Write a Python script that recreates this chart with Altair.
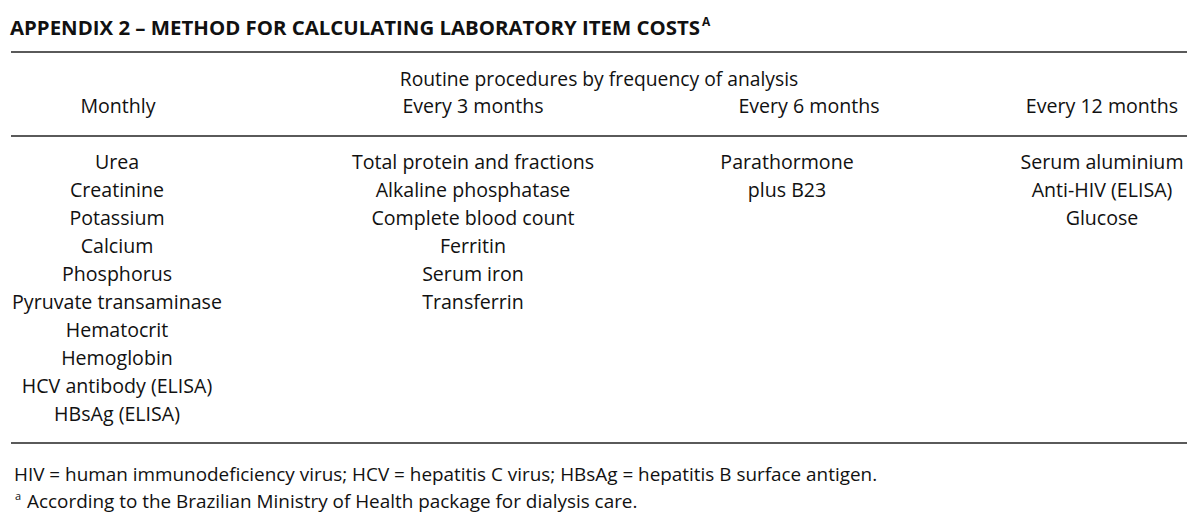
import altair as alt
import pandas as pd

# ---------------- data ----------------
title_text = "APPENDIX 2 – METHOD FOR CALCULATING LABORATORY ITEM COSTS"
title_sup = "A"
spanner = "Routine procedures by frequency of analysis"
columns = ["Monthly", "Every 3 months", "Every 6 months", "Every 12 months"]
monthly = ["Urea", "Creatinine", "Potassium", "Calcium", "Phosphorus",
           "Pyruvate transaminase", "Hematocrit", "Hemoglobin",
           "HCV antibody (ELISA)", "HBsAg (ELISA)"]
every3 = ["Total protein and fractions", "Alkaline phosphatase",
          "Complete blood count", "Ferritin", "Serum iron", "Transferrin"]
every6 = ["Parathormone", "plus B23"]
every12 = ["Serum aluminium", "Anti-HIV (ELISA)", "Glucose"]
footnote_abbrev = ("HIV = human immunodeficiency virus; HCV = hepatitis C virus; "
                   "HBsAg = hepatitis B surface antigen.")
footnote_mark = "a"
footnote_a = "According to the Brazilian Ministry of Health package for dialysis care."

# ---------------- tables ----------------
rows = []
for ci, (col, items) in enumerate(zip(columns, [monthly, every3, every6, every12])):
    for i, t in enumerate(items):
        rows.append({"col": ci, "column": col, "row": i, "text": t})
items_df = pd.DataFrame(rows)
header_df = pd.DataFrame({"col": list(range(len(columns))), "text": columns})

FONT = "Open Sans"
INK = "#111111"
OFF = 8  # page margin; coordinates below are plot-area pixels
col_index = list(range(len(columns)))

def single(text):
    return alt.Chart(pd.DataFrame({"t": [text]}))

title = single(title_text).mark_text(
    align="left", baseline="middle", font=FONT, fontSize=20.4, fontWeight="bold", color=INK
).encode(text="t:N", x=alt.value(10 - OFF), y=alt.value(29 - OFF))

sup = single(title_sup).mark_text(
    align="left", baseline="middle", font=FONT, fontSize=12, fontWeight="bold", color=INK
).encode(text="t:N", x=alt.value(702 - OFF), y=alt.value(22 - OFF))

rule_df = pd.DataFrame({"line": ["top", "header", "bottom"], "ypos": [52, 136, 443]})
rules = alt.Chart(rule_df).mark_rule(color="#5a5a5a", strokeWidth=2).encode(
    x=alt.value(11 - OFF), x2=alt.value(1187 - OFF),
    y=alt.Y("ypos:Q", scale=alt.Scale(domain=[OFF, 525 - OFF], range=[0, 509]), axis=None),
)

span = single(spanner).mark_text(
    align="center", baseline="middle", font=FONT, fontSize=19.3, color=INK
).encode(text="t:N", x=alt.value(599 - OFF), y=alt.value(80 - OFF))

headers = alt.Chart(header_df).mark_text(
    align="center", baseline="middle", font=FONT, fontSize=19.6, color=INK
).encode(
    x=alt.X("col:Q", scale=alt.Scale(domain=col_index,
                                     range=[118 - OFF, 473 - OFF, 809 - OFF, 1102 - OFF]),
            axis=None),
    y=alt.value(107 - OFF),
    text="text:N",
)

cells = alt.Chart(items_df).mark_text(
    align="center", baseline="middle", font=FONT, fontSize=19.6, color=INK
).encode(
    x=alt.X("col:Q", scale=alt.Scale(domain=col_index,
                                     range=[117 - OFF, 473 - OFF, 787 - OFF, 1102 - OFF]),
            axis=None),
    y=alt.Y("row:Q", scale=alt.Scale(domain=[0, 9], range=[163 - OFF, 415 - OFF]), axis=None),
    text="text:N",
)

foot1 = single(footnote_abbrev).mark_text(
    align="left", baseline="middle", font=FONT, fontSize=18.9, color=INK
).encode(text="t:N", x=alt.value(14 - OFF), y=alt.value(475 - OFF))

foot_mark = single(footnote_mark).mark_text(
    align="left", baseline="middle", font=FONT, fontSize=11, color=INK
).encode(text="t:N", x=alt.value(15 - OFF), y=alt.value(497 - OFF))

foot2 = single(footnote_a).mark_text(
    align="left", baseline="middle", font=FONT, fontSize=18.9, color=INK
).encode(text="t:N", x=alt.value(27 - OFF), y=alt.value(502 - OFF))

chart = alt.layer(
    rules, title, sup, span, headers, cells, foot1, foot_mark, foot2
).resolve_scale(x="independent", y="independent").properties(
    width=1184, height=509, padding=0, autosize=alt.AutoSizeParams(type="none"),
    background="white",
).configure_view(stroke=None)

chart.save("out.html", embed_options={"renderer": "svg", "actions": False})
